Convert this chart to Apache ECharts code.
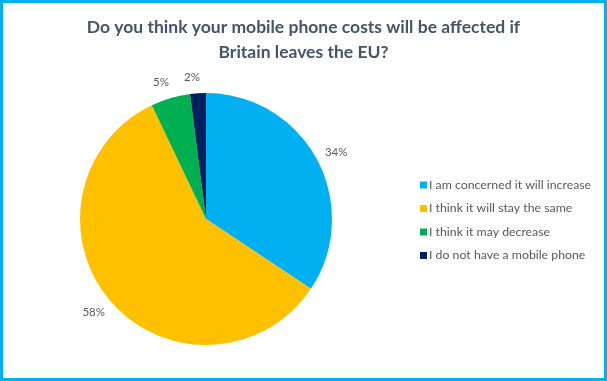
<!DOCTYPE html>
<html><head><meta charset="utf-8">
<script src="https://cdn.jsdelivr.net/npm/echarts@6/dist/echarts.min.js"></script>
<style>html,body{margin:0;padding:0;background:#fff}#c{width:607px;height:381px}</style>
</head><body><div id="c"></div>
<script>
const categories = ['I am concerned it will increase','I think it will stay the same','I think it may decrease','I do not have a mobile phone'];
const values = [34, 58, 5, 2];
const colors = ['#00b0f0','#ffc000','#00b050','#002060'];
const titleText = 'Do you think your mobile phone costs will be affected if\nBritain leaves the EU?';

const chart = echarts.init(document.getElementById('c'), null, {renderer:'canvas'});
chart.setOption({
  animation:false,
  backgroundColor:'#fff',
  graphic:[{type:'rect',shape:{x:1.5,y:1.5,width:604,height:378},style:{fill:'none',stroke:'#00b0f0',lineWidth:3},silent:true}],
  title:{text:titleText,left:'center',top:10,textStyle:{fontFamily:'Lato',fontWeight:'bold',fontSize:17.5,color:'#44546a',lineHeight:25}},
  legend:{orient:'vertical',left:415,top:173,itemWidth:7,itemHeight:7,itemGap:9.5,icon:'rect',
    textStyle:{fontFamily:'Lato',fontSize:12.3,color:'#595959',lineHeight:14,padding:[0,0,0,-3]},data:categories},
  series:[{type:'pie',center:[206,219],radius:126,startAngle:90,clockwise:true,
    data:categories.map((n,i)=>({name:n,value:values[i],itemStyle:{color:colors[i]}})),
    label:{show:true,position:'outside',formatter:p=>Math.round(p.value)+'%',fontFamily:'Lato',fontSize:11.5,color:'#595959'},
    labelLine:{show:false,length:16,length2:0},
    labelLayout:function(){return {align:'center',verticalAlign:'middle'};},
    avoidLabelOverlap:false
  }]
});
</script></body></html>
